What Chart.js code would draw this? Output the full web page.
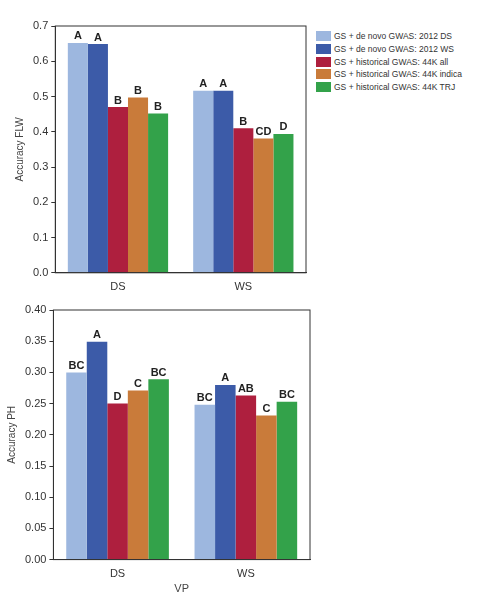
<!DOCTYPE html>
<html><head><meta charset="utf-8">
<script src="https://cdn.jsdelivr.net/npm/chart.js@4/dist/chart.umd.min.js"></script>
<style>
body{margin:0;background:#fff;font-family:Arial,"Liberation Sans",sans-serif;}
#leg{position:absolute;left:316px;top:30px;font-size:8.5px;color:#333;}
#leg div{height:12.7px;display:flex;align-items:center;}
#leg span{display:inline-block;width:15px;height:10px;margin-right:3px;}
</style></head><body>
<div style="position:absolute;left:0;top:0;width:312px;height:300px"><canvas id="c1"></canvas></div>
<div style="position:absolute;left:0;top:300px;width:314px;height:300px"><canvas id="c2"></canvas></div>
<div id="leg"></div>
<script>
const categories=["DS","WS"];
const seriesNames=["GS + de novo GWAS: 2012 DS","GS + de novo GWAS: 2012 WS","GS + historical GWAS: 44K all","GS + historical GWAS: 44K indica","GS + historical GWAS: 44K TRJ"];
const colors=["#9db7df","#3c5ba8","#ae1f3e","#c97b3a","#33a24a"];
const flwValues=[[0.652,0.516],[0.649,0.516],[0.470,0.410],[0.497,0.381],[0.452,0.394]];
const flwLetters=[["A","A"],["A","A"],["B","B"],["B","CD"],["B","D"]];
const phValues=[[0.300,0.248],[0.349,0.280],[0.250,0.263],[0.271,0.231],[0.289,0.253]];
const phLetters=[["BC","BC"],["A","A"],["D","AB"],["C","C"],["BC","BC"]];
const flwTicks=[0,0.1,0.2,0.3,0.4,0.5,0.6,0.7];
const phTicks=[0,0.05,0.1,0.15,0.2,0.25,0.3,0.35,0.4];

document.getElementById('leg').innerHTML=seriesNames.map((n,i)=>`<div><span style="background:${colors[i]}"></span>${n}</div>`).join('');

const letterPlugin={id:'letters',afterDatasetsDraw(ch){
  const c=ch.ctx;c.save();c.font='bold 11px Arial';c.fillStyle='#222';c.textAlign='center';c.textBaseline='bottom';
  ch.data.datasets.forEach((d,i)=>{ch.getDatasetMeta(i).data.forEach((b,j)=>{c.fillText(d.letters[j],b.x,b.y-1);});});
  c.strokeStyle='#333';c.lineWidth=1;const a=ch.chartArea;c.strokeRect(a.left,a.top,a.right-a.left,a.bottom-a.top);c.restore();}};

function make(id,vals,lets,ticks,max,dec,ylabel,xlabel,pad){
  new Chart(document.getElementById(id),{type:'bar',
    data:{labels:categories,datasets:vals.map((v,i)=>({label:seriesNames[i],data:v,letters:lets[i],backgroundColor:colors[i],borderWidth:0}))},
    plugins:[letterPlugin],
    options:{responsive:true,maintainAspectRatio:false,animation:false,
      layout:{padding:pad},
      datasets:{bar:{categoryPercentage:0.8,barPercentage:1}},
      plugins:{legend:{display:false},tooltip:{enabled:false}},
      scales:{
        x:{grid:{display:false},border:{color:'#333'},ticks:{color:'#333',font:{size:11},padding:0},
           title:{display:!!xlabel,text:xlabel,color:'#444',font:{size:11},padding:{top:2}}},
        y:{min:0,max:max,afterBuildTicks:s=>{s.ticks=ticks.map(v=>({value:v}));},
           grid:{drawOnChartArea:false,drawTicks:true,tickLength:4,color:'#333'},border:{color:'#333'},
           ticks:{color:'#333',font:{size:11},callback:v=>v.toFixed(dec)},
           title:{display:true,text:ylabel,color:'#444',font:{size:10}}}}}});
}
make('c1',flwValues,flwLetters,flwTicks,0.7,1,'Accuracy FLW','',{top:26,right:6,left:10,bottom:6});
make('c2',phValues,phLetters,phTicks,0.4,2,'Accuracy PH','VP',{top:10,right:4,left:2,bottom:0});
</script></body></html>
